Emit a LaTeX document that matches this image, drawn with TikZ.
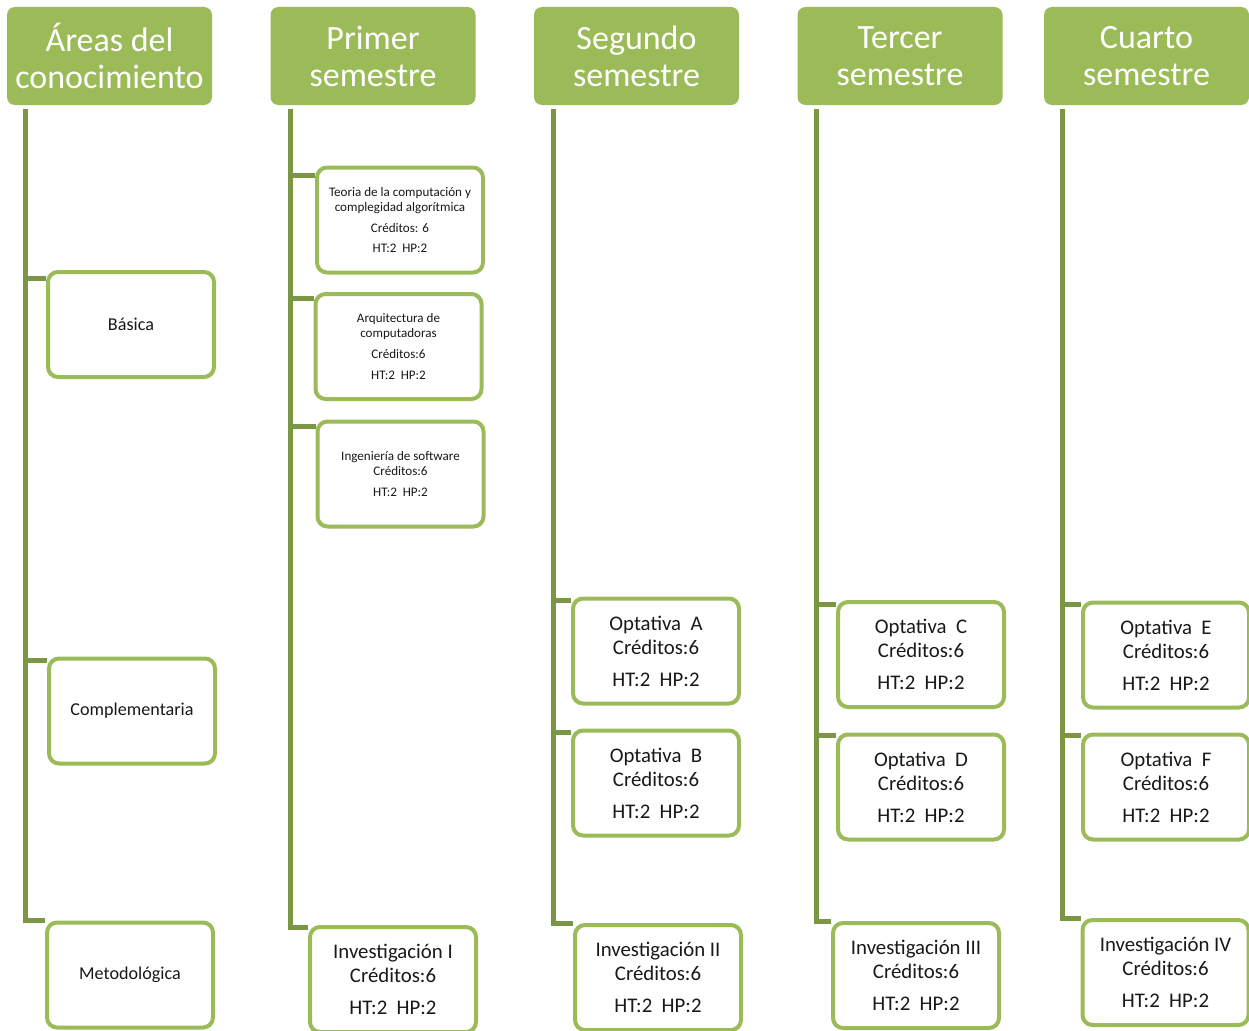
\documentclass[tikz,border=0pt]{standalone}
\usepackage{fontspec}
\setmainfont{Carlito}
\usetikzlibrary{backgrounds}
\definecolor{areagreen}{RGB}{155,187,89}
\definecolor{stemgreen}{RGB}{124,151,68}
\begin{document}
\begin{tikzpicture}[x=0.75pt,y=-0.75pt,
  headbox/.style={fill=areagreen,rounded corners=6pt,minimum width=153.75pt,minimum height=73.5pt,
    inner sep=0pt,text=white,align=center,font=\fontsize{25.5}{27.75}\selectfont},
  areabox/.style={draw=areagreen,line width=3pt,fill=white,rounded corners=7.5pt,
    minimum width=124.5pt,minimum height=78.75pt,inner sep=0pt,align=center,text=black!90},
  smallbox/.style={areabox,font=\fontsize{9.8}{11.25}\selectfont},
  labelbox/.style={areabox,font=\fontsize{13.6}{16}\selectfont},
  bigbox/.style={areabox,font=\fontsize{15.6}{18}\selectfont},
  stem/.style={draw=stemgreen,line width=3.75pt}]
\useasboundingbox (0,0) rectangle (1249,1031);

% encabezados
\node[headbox] (h0) at (109.5,56) {Áreas del\\conocimiento};
\node[headbox] (h1) at (373,56) {Primer\\semestre};
\node[headbox] (h2) at (636.5,56) {Segundo\\semestre};
\node[headbox] (h3) at (900,56) {Tercer\\semestre};
\node[headbox] (h4) at (1146.5,56) {Cuarto\\semestre};

% areas
\node[labelbox] (basica) at (131,324.5) {Básica};
\node[labelbox] (compl) at (132,711) {Complementaria};
\node[labelbox] (metod) at (130,975) {Metodológica};

% primer semestre
\node[smallbox] (teoria) at (400,220) {Teoria de la computación y\\complegidad algorítmica\\[4.5pt]Créditos: 6\\[4pt]HT:2\ \ HP:2};
\node[smallbox] (arq) at (398.5,346.5) {Arquitectura de\\computadoras\\[4.5pt]Créditos:6\\[4.5pt]HT:2\ \ HP:2};
\node[smallbox] (ing) at (400.5,474) {Ingeniería de software\\Créditos:6\\[4.5pt]HT:2\ \ HP:2};
\node[bigbox] (inv1) at (393,979.5) {Investigación I\\Créditos:6\\[6pt]HT:2\ \ HP:2};

% segundo semestre
\node[bigbox] (optA) at (656,651) {Optativa\ \ A\\Créditos:6\\[6pt]HT:2\ \ HP:2};
\node[bigbox] (optB) at (656,783) {Optativa\ \ B\\Créditos:6\\[6pt]HT:2\ \ HP:2};
\node[bigbox] (inv2) at (658,977.5) {Investigación II\\Créditos:6\\[6pt]HT:2\ \ HP:2};

% tercer semestre
\node[bigbox] (optC) at (921,654.5) {Optativa\ \ C\\Créditos:6\\[6pt]HT:2\ \ HP:2};
\node[bigbox] (optD) at (921,787) {Optativa\ \ D\\Créditos:6\\[6pt]HT:2\ \ HP:2};
\node[bigbox] (inv3) at (916,975.5) {Investigación III\\Créditos:6\\[6pt]HT:2\ \ HP:2};

% cuarto semestre
\node[bigbox] (optE) at (1166,655) {Optativa\ \ E\\Créditos:6\\[6pt]HT:2\ \ HP:2};
\node[bigbox] (optF) at (1166,787) {Optativa\ \ F\\Créditos:6\\[6pt]HT:2\ \ HP:2};
\node[bigbox] (inv4) at (1165.5,972.5) {Investigación IV\\Créditos:6\\[6pt]HT:2\ \ HP:2};

% troncos
\coordinate (t0) at (25,109);
\coordinate (t1) at (290,109);
\coordinate (t2) at (553,109);
\coordinate (t3) at (816,109);
\coordinate (t4) at (1062,109);
\begin{scope}[on background layer]
\draw[stem] (t0) |- ([yshift=-6pt]basica.north west);
\draw[stem] (t0) |- ([yshift=-3pt]compl.north west);
\draw[stem] (t0) |- (metod.north west);
\draw[stem] (t1) |- ([yshift=-7.5pt]teoria.north west);
\draw[stem] (t1) |- ([yshift=-5pt]arq.north west);
\draw[stem] (t1) |- ([yshift=-5pt]ing.north west);
\draw[stem] (t1) |- ([yshift=-2pt]inv1.north west);
\draw[stem] (t2) |- ([yshift=-3pt]optA.north west);
\draw[stem] (t2) |- ([yshift=-3pt]optB.north west);
\draw[stem] (t2) |- (inv2.north west);
\draw[stem] (t3) |- ([yshift=-3.5pt]optC.north west);
\draw[stem] (t3) |- ([yshift=-2.5pt]optD.north west);
\draw[stem] (t3) |- (inv3.north west);
\draw[stem] (t4) |- ([yshift=-3pt]optE.north west);
\draw[stem] (t4) |- ([yshift=-2.5pt]optF.north west);
\draw[stem] (t4) |- (inv4.north west);
\end{scope}
\end{tikzpicture}
\end{document}
